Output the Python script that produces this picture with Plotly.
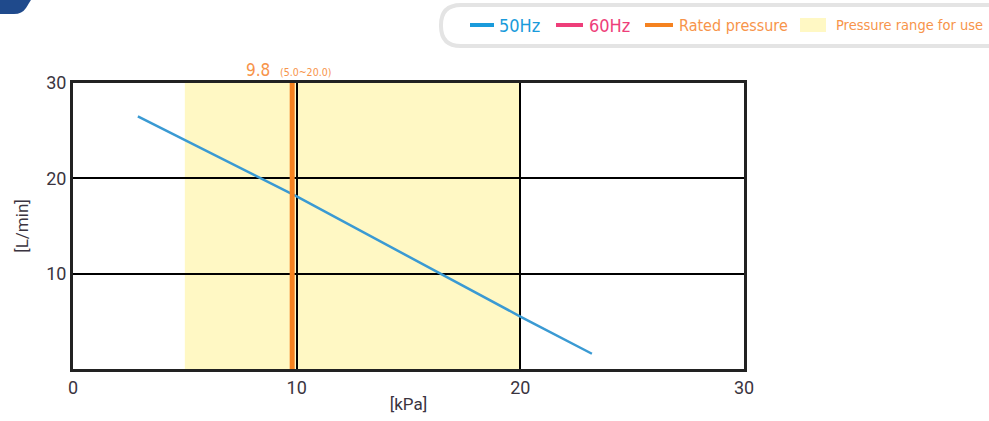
import plotly.graph_objects as go

# ---- data ----
pressure_kpa = [2.9, 10.0, 20.0, 23.2]
flow_50hz = [26.5, 18.1, 5.5, 1.6]
flow_60hz = []
rated_pressure = 9.8
range_low = 5.0
range_high = 20.0
x_ticks = [0, 10, 20, 30]
y_ticks = [10, 20, 30]
legend_labels = ["50Hz", "60Hz", "Rated pressure", "Pressure range for use"]

W, H = 989, 421
S_L, S_T, PW, PH = 73, 83, 671, 286
L, T = S_L, S_T
R, B = W - L - PW, H - T - PH

def px(sx):
    return (sx - S_L) / PW

def py(sy):
    return (S_T + PH - sy) / PH

FONT = "Roboto, Arial"
LFONT = "DejaVu Sans Condensed, Roboto"
BLUE = "#3A9AD3"
C50, C60, CORG, CTXT, CYEL = "#1A9BDB", "#EE3E7A", "#F58220", "#F7944A", "#FFF8C4"

fig = go.Figure()

fig.add_trace(go.Scatter(x=pressure_kpa, y=flow_50hz, mode="lines",
                         line=dict(color=BLUE, width=2.5), name=legend_labels[0], showlegend=False))
fig.add_trace(go.Scatter(x=[None] * max(1, len(flow_60hz)), y=flow_60hz or [None], mode="lines",
                         line=dict(color=C60, width=2.5), name=legend_labels[1], showlegend=False))
fig.add_trace(go.Scatter(x=[rated_pressure, rated_pressure], y=[0, 30], mode="lines",
                         line=dict(color=CORG, width=5), name=legend_labels[2], showlegend=False))

# yellow band below grid
fig.add_shape(type="rect", xref="x", yref="y", x0=range_low, x1=range_high,
              y0=0, y1=30, fillcolor=CYEL, line_width=0, layer="below")

# rounded legend frame
def rrect(x0, y0, x1, y1, r):
    return (f"M {px(x0 + r)},{py(y0)} L {px(x1 - r)},{py(y0)} Q {px(x1)},{py(y0)} {px(x1)},{py(y0 + r)} "
            f"L {px(x1)},{py(y1 - r)} Q {px(x1)},{py(y1)} {px(x1 - r)},{py(y1)} "
            f"L {px(x0 + r)},{py(y1)} Q {px(x0)},{py(y1)} {px(x0)},{py(y1 - r)} "
            f"L {px(x0)},{py(y0 + r)} Q {px(x0)},{py(y0)} {px(x0 + r)},{py(y0)} Z")

fig.add_shape(type="path", xref="paper", yref="paper", path=rrect(441, 5, 1020, 46, 20),
              line=dict(color="#E4E4E4", width=4), fillcolor="white", layer="below")

# legend glyphs
for x0, x1, c in [(470, 494, C50), (556, 583, C60), (645, 673, CORG)]:
    fig.add_shape(type="line", xref="paper", yref="paper", x0=px(x0), x1=px(x1), y0=py(25), y1=py(25),
                  line=dict(color=c, width=4), layer="above")
fig.add_shape(type="rect", xref="paper", yref="paper", x0=px(800), x1=px(826), y0=py(32), y1=py(18),
              fillcolor=CYEL, line_width=0, layer="above")

# legend texts
for x, txt, c, s in [(497, legend_labels[0], C50, 18), (587, legend_labels[1], C60, 18),
                     (677, legend_labels[2], CTXT, 16), (834, legend_labels[3], CTXT, 14.5)]:
    fig.add_annotation(x=px(x), y=py(25), xref="paper", yref="paper", xanchor="left", yanchor="middle",
                       text=txt, showarrow=False, font=dict(family=LFONT, size=s, color=c))

# dark corner decoration
fig.add_shape(type="path", xref="paper", yref="paper",
              path=f"M {px(-5)},{py(-5)} L {px(34)},{py(-5)} L {px(26)},{py(8)} Q {px(22)},{py(14)} {px(14)},{py(14)} L {px(-5)},{py(14)} Z",
              fillcolor="#1F4A8C", line_width=0, layer="above")

fig.add_annotation(x=px(258), y=py(70), xref="paper", yref="paper", xanchor="center", yanchor="middle",
                   text=f"{rated_pressure}", showarrow=False, font=dict(family=LFONT, size=17, color=CTXT))
fig.add_annotation(x=px(305), y=py(72), xref="paper", yref="paper", xanchor="center", yanchor="middle",
                   text=f"({range_low}~{range_high})", showarrow=False,
                   font=dict(family=LFONT, size=10.5, color=CTXT))

fig.update_layout(
    width=W, height=H,
    margin=dict(l=L, r=R, t=T, b=B, autoexpand=False),
    paper_bgcolor="white", plot_bgcolor="white",
    font=dict(family=FONT, color="#333333"),
    showlegend=False,
)
fig.update_xaxes(range=[0, 30], tickvals=x_ticks, showgrid=True, gridcolor="black", gridwidth=2,
                 showline=True, mirror=True, linecolor="#222222", linewidth=3, zeroline=False,
                 tickfont=dict(size=18, color="#3A3440"), ticks="", automargin=False,
                 title=dict(text="[kPa]", font=dict(size=17, color="#3A3440"), standoff=2))
fig.update_yaxes(range=[0, 30], tickvals=y_ticks, showgrid=True, gridcolor="black", gridwidth=2,
                 showline=True, mirror=True, linecolor="#222222", linewidth=3, zeroline=False,
                 tickfont=dict(size=18, color="#3A3440"), ticks="", automargin=False,
                 title=dict(text="[L/min]", font=dict(size=17, color="#3A3440"), standoff=14))

fig.write_html("out.html", config={"displayModeBar": False},
               post_script="document.body.style.margin='0';document.body.style.overflow='hidden';")
